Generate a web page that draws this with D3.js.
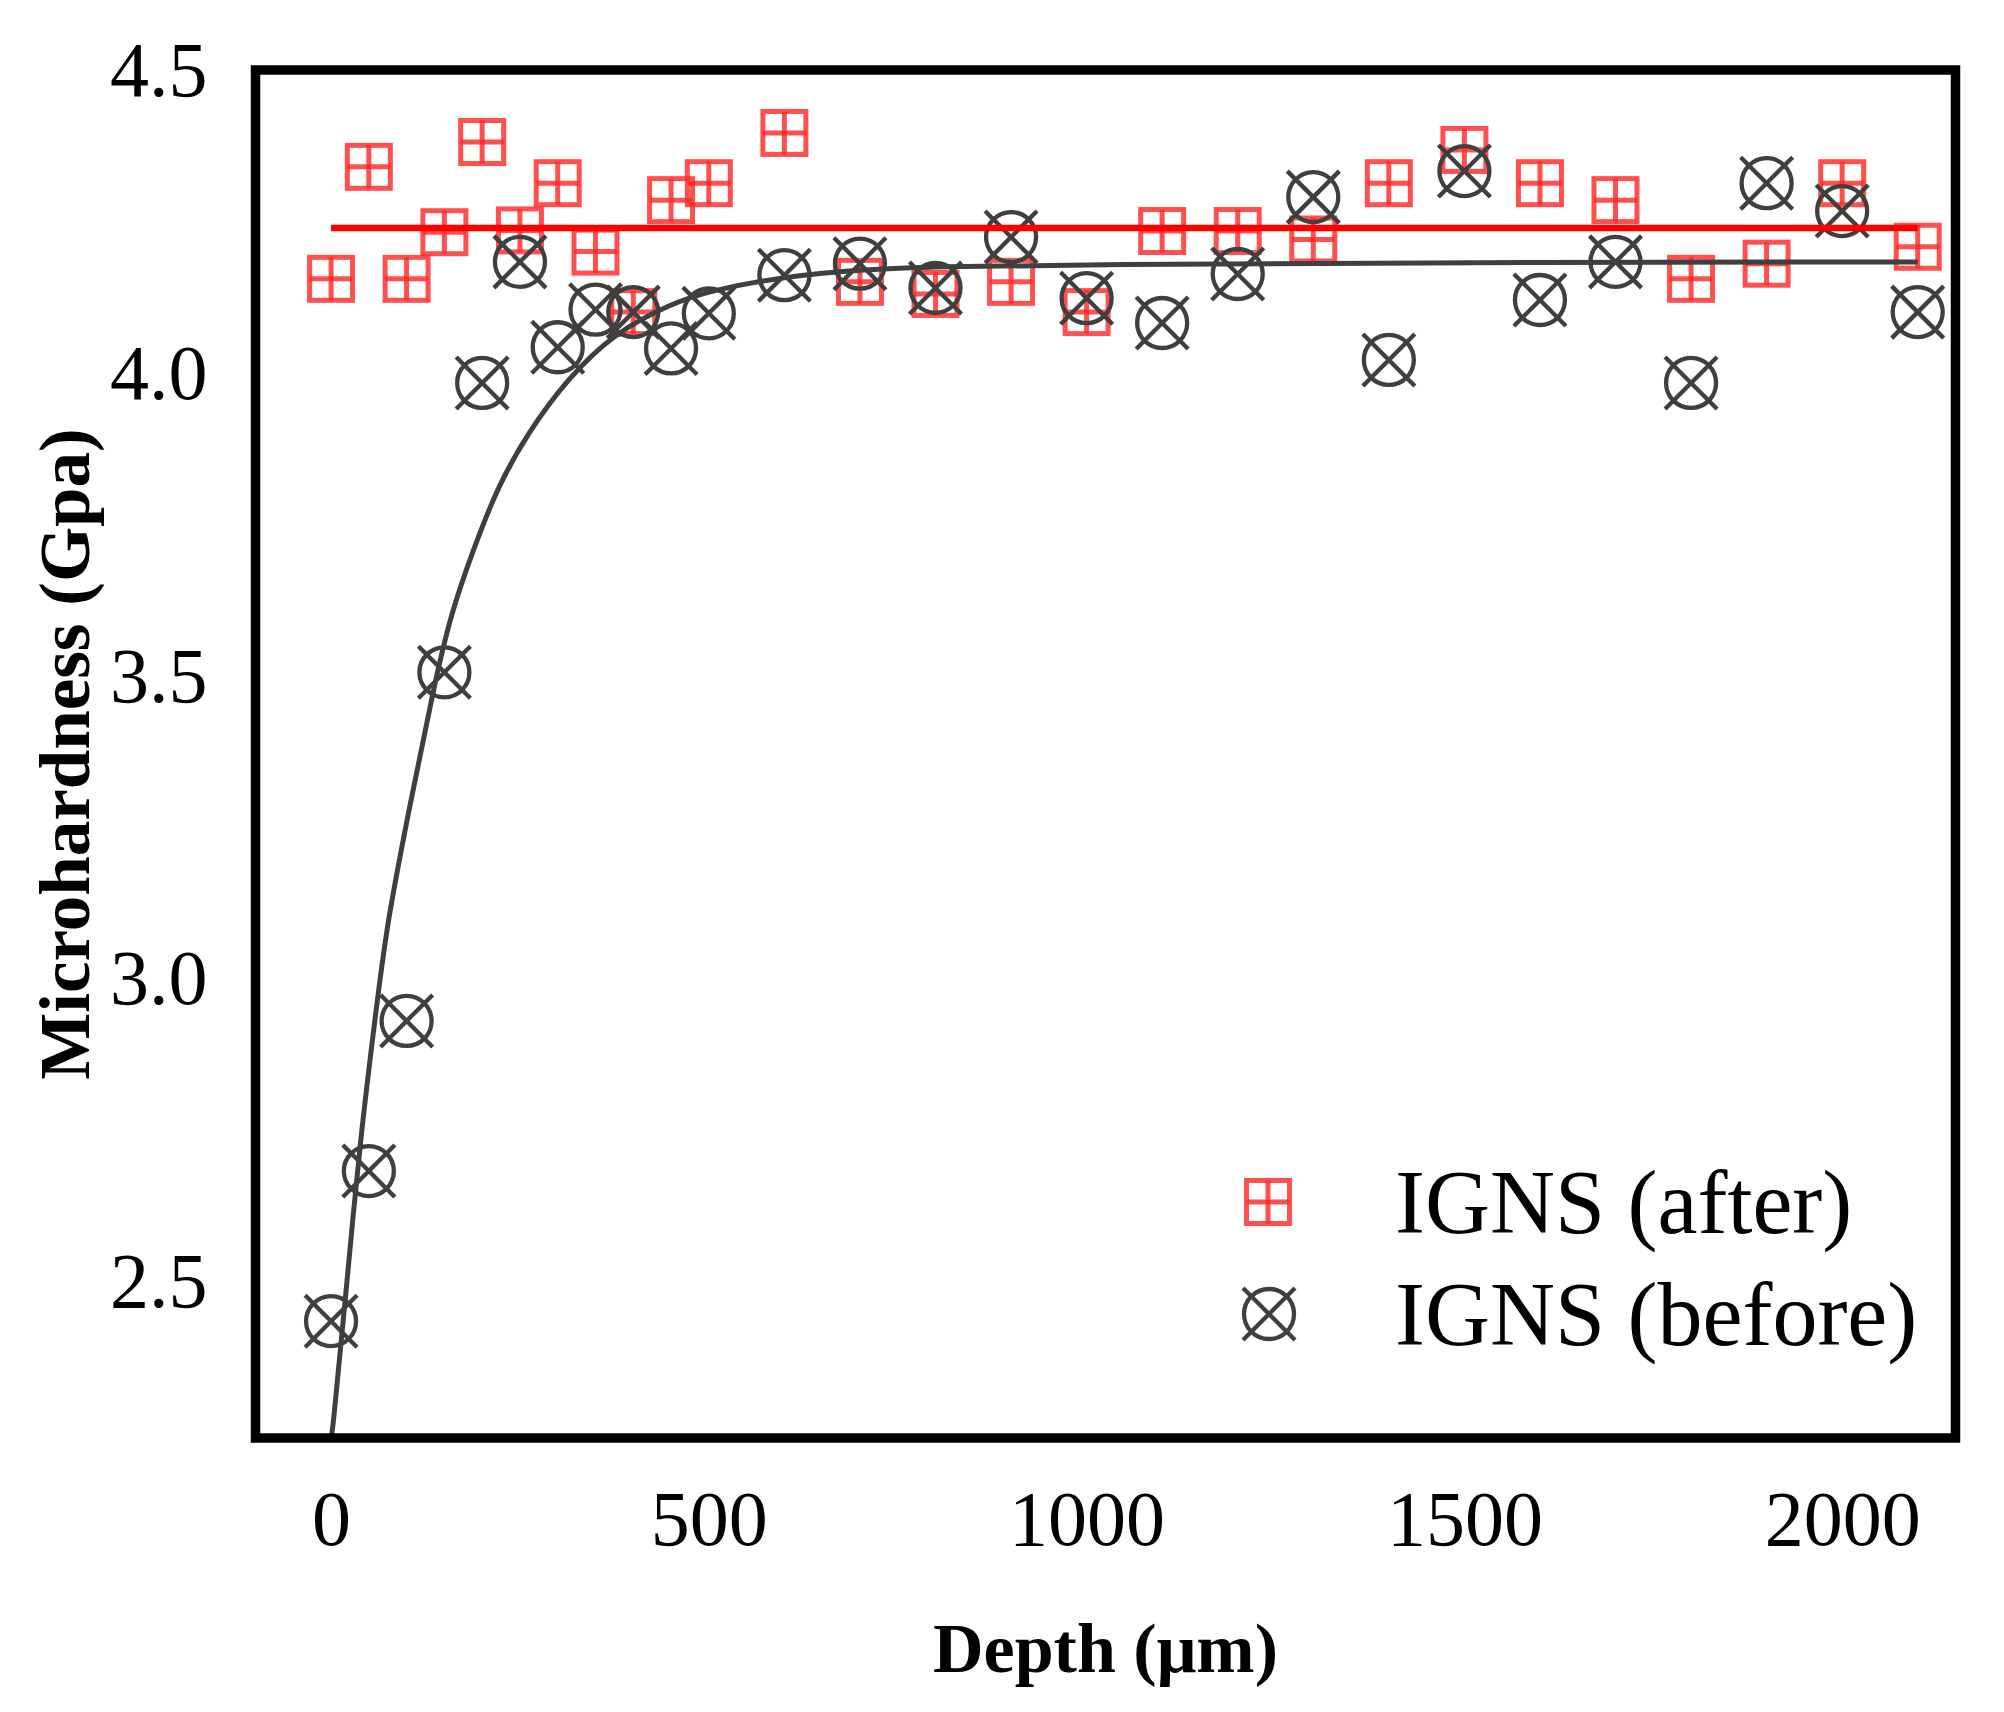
<!DOCTYPE html>
<html>
<head>
<meta charset="utf-8">
<script src="https://cdn.jsdelivr.net/npm/d3@7"></script>
<style>
  html, body { margin: 0; padding: 0; background: #ffffff; }
  svg { display: block; }
</style>
</head>
<body>
<svg id="chart" width="2004" height="1712"></svg>
<script>
// ---------------- data ----------------
const depth = [0, 50, 100, 150, 200, 250, 300, 350, 400, 450, 500, 600, 700, 800, 900,
               1000, 1100, 1200, 1300, 1400, 1500, 1600, 1700, 1800, 1900, 2000, 2100];
const afterValues = [4.155, 4.34, 4.155, 4.232, 4.381, 4.235, 4.313, 4.20, 4.10, 4.285, 4.313,
                     4.396, 4.15, 4.13, 4.15, 4.10, 4.234, 4.234, 4.22, 4.313, 4.368,
                     4.313, 4.285, 4.155, 4.18, 4.313, 4.208];
const beforeValues = [2.433, 2.681, 2.929, 3.505, 3.983, 4.183, 4.042, 4.104, 4.10, 4.04, 4.098,
                      4.161, 4.18, 4.14, 4.224, 4.123, 4.082, 4.163, 4.29, 4.021, 4.333,
                      4.12, 4.183, 3.983, 4.313, 4.267, 4.10];
// fitted lines, points
const afterFitX = [0, 2100];
const afterFitY = [4.239, 4.239];
const beforeFitX = [0, 2, 19, 39, 61, 74, 105, 136, 158, 189, 220, 260, 313, 374, 450, 500,
                    600, 700, 800, 1000, 1500, 2100];
const beforeFitY = [2.24, 2.25, 2.47, 2.74, 2.96, 3.09, 3.29, 3.48, 3.60, 3.71, 3.81, 3.90,
                    3.99, 4.065, 4.114, 4.135, 4.159, 4.17, 4.175, 4.179, 4.182, 4.183];
const xTicks = [0, 500, 1000, 1500, 2000];
const yTicks = [2.5, 3.0, 3.5, 4.0, 4.5];
const seriesNames = ["IGNS (after)", "IGNS (before)"];
const xTitle = "Depth (\u03bcm)";
const yTitle = "Microhardness (Gpa)";

// ---------------- layout ----------------
const plotLeft = 255.5, plotRight = 1955.5, plotTop = 70, plotBottom = 1438;
const RED = "#ff2a2a", GRAY = "#3f3f3f";
const FONT = "'Liberation Serif', 'Times New Roman', serif";

const svg = d3.select("#chart");
const x = d3.scaleLinear().domain([-100, 2150]).range([plotLeft, plotRight]);
const y = d3.scaleLinear().domain([2.24, 4.5]).range([plotBottom, plotTop]);

svg.append("defs").append("clipPath").attr("id", "plotclip")
  .append("rect").attr("x", plotLeft).attr("y", plotTop)
  .attr("width", plotRight - plotLeft).attr("height", plotBottom - plotTop);

// axes (labels only)
const xAxis = svg.append("g").attr("transform", `translate(0,${plotBottom})`)
  .call(d3.axisBottom(x).tickValues(xTicks).tickSize(0).tickFormat(d3.format("d")));
xAxis.select(".domain").remove();
xAxis.selectAll("text").attr("y", 107).attr("dy", null)
  .style("font-family", FONT).style("font-size", "78px").attr("fill", "#000");

const yAxis = svg.append("g").attr("transform", `translate(${plotLeft},0)`)
  .call(d3.axisLeft(y).tickValues(yTicks).tickSize(0).tickFormat(d3.format(".1f")));
yAxis.select(".domain").remove();
yAxis.selectAll("text").attr("x", -48).attr("dy", "0.33em")
  .style("font-family", FONT).style("font-size", "78px").attr("fill", "#000");

// axis titles
svg.append("text")
  .attr("x", x(1025)).attr("y", 1672)
  .attr("text-anchor", "middle")
  .style("font-family", FONT).style("font-weight", "bold").style("font-size", "70px")
  .text(xTitle);
svg.append("text")
  .attr("transform", `translate(89,754) rotate(-90)`)
  .attr("text-anchor", "middle")
  .style("font-family", FONT).style("font-weight", "bold").style("font-size", "71px")
  .text(yTitle);

// ---------------- markers ----------------
function squareMarker(g, cx, cy, h) {
  const s = g.append("g").attr("transform", `translate(${cx},${cy})`)
    .attr("fill", "none").attr("stroke", RED).attr("stroke-width", 5).attr("stroke-opacity", 0.82);
  s.append("rect").attr("x", -h).attr("y", -h).attr("width", 2 * h).attr("height", 2 * h);
  s.append("line").attr("x1", 0).attr("x2", 0).attr("y1", -h).attr("y2", h);
  s.append("line").attr("x1", -h).attr("x2", h).attr("y1", 0).attr("y2", 0);
}
function circleMarker(g, cx, cy, r, a) {
  const s = g.append("g").attr("transform", `translate(${cx},${cy})`)
    .attr("fill", "none").attr("stroke", GRAY).attr("stroke-width", 4.3);
  s.append("circle").attr("r", r);
  s.append("line").attr("x1", -a).attr("y1", -a).attr("x2", a).attr("y2", a);
  s.append("line").attr("x1", -a).attr("y1", a).attr("x2", a).attr("y2", -a);
}

const plot = svg.append("g").attr("clip-path", "url(#plotclip)");

const gRed = plot.append("g");
depth.forEach((d, i) => squareMarker(gRed, x(d), y(afterValues[i]), 21.5));
const gGray = plot.append("g");
depth.forEach((d, i) => circleMarker(gGray, x(d), y(beforeValues[i]), 25, 26));

// fit lines
const beforeFit = beforeFitX.map((d, i) => [d, beforeFitY[i]]);
const afterFit = afterFitX.map((d, i) => [d, afterFitY[i]]);
const smooth = d3.line().x(d => x(d[0])).y(d => y(d[1])).curve(d3.curveBasis);
const straight = d3.line().x(d => x(d[0])).y(d => y(d[1]));
plot.append("path").datum(beforeFit).attr("d", smooth)
  .attr("fill", "none").attr("stroke", GRAY).attr("stroke-width", 5);
plot.append("path").datum(afterFit).attr("d", straight)
  .attr("fill", "none").attr("stroke", "#ff0000").attr("stroke-width", 6.5);

// frame
svg.append("rect").attr("x", plotLeft).attr("y", plotTop)
  .attr("width", plotRight - plotLeft).attr("height", plotBottom - plotTop)
  .attr("fill", "none").attr("stroke", "#000").attr("stroke-width", 9.5);

// ---------------- legend ----------------
const leg = svg.append("g");
squareMarker(leg, 1268, 1202, 21.5);
circleMarker(leg, 1269, 1314, 25, 26);
leg.append("text").attr("x", 1395).attr("y", 1233)
  .style("font-family", FONT).style("font-size", "90px").text(seriesNames[0]);
leg.append("text").attr("x", 1395).attr("y", 1345)
  .style("font-family", FONT).style("font-size", "90px").text(seriesNames[1]);
</script>
</body>
</html>
